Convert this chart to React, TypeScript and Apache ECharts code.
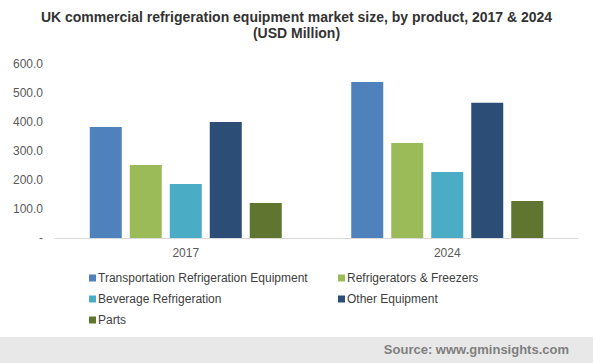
import React, { useEffect, useRef } from "react";
import * as echarts from "echarts";

const categories = ["2017", "2024"];
const seriesNames = [
  "Transportation Refrigeration Equipment",
  "Refrigerators & Freezers",
  "Beverage Refrigeration",
  "Other Equipment",
  "Parts",
];
const transport = [383, 538];
const fridges = [252, 328];
const beverage = [186, 228];
const other = [400, 466];
const parts = [121, 128];
const colors = ["#4f81bd", "#9bbb59", "#4bacc6", "#2c4d75", "#5f7530"];
const yTicks = [0, 100, 200, 300, 400, 500, 600];

export default function App() {
  const ref = useRef<HTMLDivElement>(null);
  useEffect(() => {
    const chart = echarts.init(ref.current!, null, { renderer: "svg" });
    const values = [transport, fridges, beverage, other, parts];
    const font = "Arial, 'Liberation Sans', sans-serif";
    chart.setOption({
      animation: false,
      textStyle: { fontFamily: font },
      title: {
        text: "UK commercial refrigeration equipment market size, by product, 2017 & 2024\n(USD Million)",
        left: "center",
        top: 4,
        textStyle: { fontSize: 14, fontWeight: "bold", color: "#333333", lineHeight: 16, fontFamily: font },
      },
      legend: [
        {
          orient: "vertical",
          left: 84,
          top: 267,
          itemWidth: 7,
          itemHeight: 7,
          itemGap: 9,
          icon: "rect",
          data: [seriesNames[0], seriesNames[2], seriesNames[4]],
          textStyle: { fontSize: 12, color: "#404040", padding: [0, 0, 0, -3] },
        },
        {
          orient: "vertical",
          left: 333,
          top: 267,
          itemWidth: 7,
          itemHeight: 7,
          itemGap: 9,
          icon: "rect",
          data: [seriesNames[1], seriesNames[3]],
          textStyle: { fontSize: 12, color: "#404040", padding: [0, 0, 0, -3] },
        },
      ],
      grid: { left: 55, right: 15, top: 64, bottom: 125 },
      xAxis: {
        type: "category",
        data: categories,
        axisLine: { lineStyle: { color: "#d9d9d9" } },
        axisTick: { show: false },
        axisLabel: { color: "#595959", fontSize: 12, margin: 9 },
      },
      yAxis: {
        type: "value",
        min: 0,
        max: yTicks[yTicks.length - 1],
        interval: 100,
        axisLine: { show: false },
        axisTick: { show: false },
        splitLine: { show: false },
        axisLabel: {
          color: "#595959",
          fontSize: 12,
          margin: 12,
          formatter: (v: number) => (v === 0 ? "-" : v.toFixed(1)),
        },
      },
      series: seriesNames.map((name, i) => ({
        name,
        type: "bar",
        data: values[i],
        barWidth: 32,
        barGap: "25%",
        itemStyle: { color: colors[i] },
      })),
      graphic: [
        {
          type: "rect",
          left: 0,
          top: 337,
          shape: { width: 593, height: 26 },
          style: { fill: "#e8e8e8" },
          z: -1,
        },
        {
          type: "text",
          right: 24,
          top: 343,
          style: {
            text: "Source: www.gminsights.com",
            fill: "#7f7f7f",
            font: "bold 13px Arial, 'Liberation Sans', sans-serif",
          },
        },
      ],
    });
    return () => chart.dispose();
  }, []);
  return (
    <div
      ref={ref}
      style={{ position: "fixed", left: 0, top: 0, width: 593, height: 363, background: "#fff" }}
    />
  );
}
